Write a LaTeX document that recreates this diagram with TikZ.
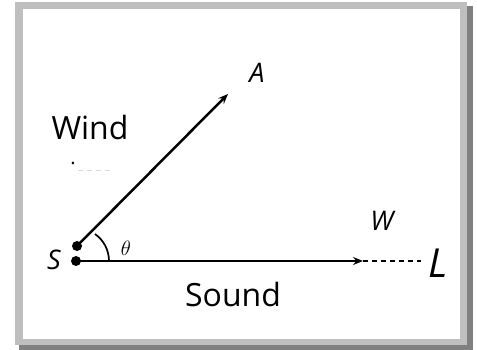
\documentclass[tikz,border=0pt]{standalone}
\usepackage{fontspec}
\setmainfont{Open Sans}
\usetikzlibrary{arrows.meta}

\begin{document}
\begin{tikzpicture}[x=1pt,y=-1pt,
	vec/.style={line width=2.5pt, -{Stealth[length=10pt,width=8pt,inset=3.5pt]}},
	lbl/.style={font=\fontsize{27}{27}\selectfont\itshape},
	word/.style={font=\fontsize{32}{32}\selectfont}]
	\useasboundingbox (0,0) rectangle (477,350);
	
	%--- Frame with shadow ---
	\fill[black!50] (19,6) rectangle (473,350);
	\fill[black!25] (15,2) rectangle (467,345);
	\fill[white] (23,9) rectangle (460,339);
	
	%--- Points ---
	\coordinate (S) at (76,261);   % sound start
	\coordinate (Sw) at (77,246);  % wind start
	\coordinate (A) at (228,94);
	\coordinate (T) at (363,261);  % arrow tip
	\coordinate (L) at (421,261);
	
	% Wind and sound vectors
	\draw[vec] (Sw) -- (A);
	\draw[vec] (S) -- (T);
	\draw[line width=1.5pt, dash pattern=on 5pt off 4pt] (T) -- (L);
	
	% Angle theta
	\draw[line width=1.7pt] (S) ++(33,0) arc[start angle=0, end angle=-55, radius=33];
	
	% Points + labels
	\fill (S) circle (5);
	\fill (Sw) circle (5);
	\node[lbl] (lS) at (54,260) {S};
	\node[lbl] (lA) at (257,73) {A};
	\node[lbl] (lW) at (382,221) {W};
	\node[font=\fontsize{40}{40}\selectfont\itshape] (lL) at (438,263) {L};
	\node[font=\fontsize{20}{20}\selectfont] (lth) at (126,248) {$\theta$};
	
	% Words
	\node[word] (wind) at (90,128) {Wind};
	\node[word] (sound) at (233,294) {Sound};
	\node[font=\fontsize{20}{20}\selectfont] (dot) at (73,163) {.};
	\draw[black!15, dash pattern=on 5pt off 4pt] (78,170) -- (110,170);
	
\end{tikzpicture}
\end{document}
